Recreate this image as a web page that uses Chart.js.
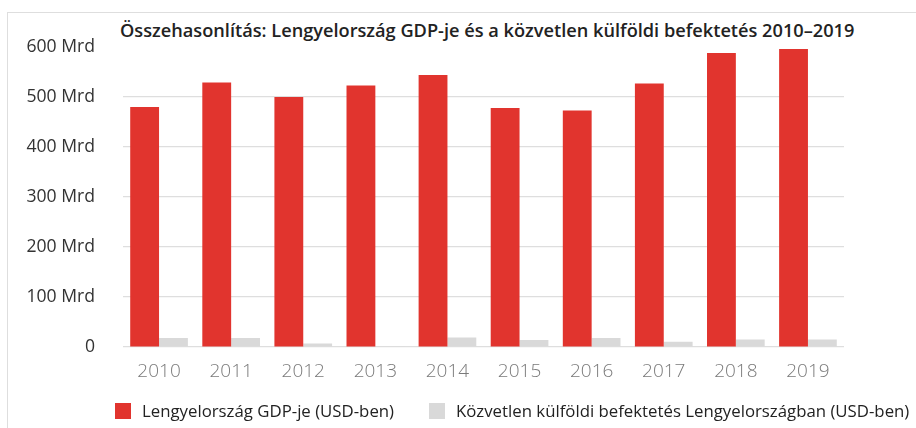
<!DOCTYPE html>
<html lang="hu">
<head>
<meta charset="utf-8">
<script src="https://cdn.jsdelivr.net/npm/chart.js@4/dist/chart.umd.min.js"></script>
<style>
  html, body { margin: 0; padding: 0; background: #fff; overflow: hidden; }
  body { width: 916px; height: 428px; position: relative; font-family: 'Open Sans', sans-serif; }
  .frame { position: absolute; left: 7px; top: 12px; width: 1000px; height: 500px;
           border-top: 1.5px solid #dedede; border-left: 1.5px solid #dedede; }
  .title { position: absolute; left: 120px; top: 18px; font-size: 18.2px; font-weight: 600; color: #222; white-space: nowrap; }
  #chartBox { position: absolute; left: 0; top: 0; width: 916px; height: 400px; }
  .legend-item { position: absolute; top: 399px; display: flex; align-items: center; font-size: 16.8px; color: #222; white-space: nowrap; }
  .legend-item span.box { width: 16px; height: 16px; margin-right: 11px; display: inline-block; }
</style>
</head>
<body>
<div class="frame"></div>
<div class="title">Összehasonlítás: Lengyelország GDP-je és a közvetlen külföldi befektetés 2010–2019</div>
<div id="chartBox"><canvas id="barChart" width="916" height="400"></canvas></div>
<div class="legend-item" style="left:115px"><span class="box" style="background:#e1342e"></span>Lengyelország GDP-je (USD-ben)</div>
<div class="legend-item" style="left:429px"><span class="box" style="background:#d9d9d9"></span>Közvetlen külföldi befektetés Lengyelországban (USD-ben)</div>

<script>
'use strict';

// évek és értékek (milliárd USD)
const years = ['2010', '2011', '2012', '2013', '2014', '2015', '2016', '2017', '2018', '2019'];
const gdp = [480, 529, 500, 523, 544, 478, 473, 527, 588, 596];
const fdi = [18, 18, 7, 0.6, 19, 14, 18, 10.5, 15, 15];
const yTicks = [0, 100, 200, 300, 400, 500, 600];

const FONT = "'Open Sans', sans-serif";

let context = document.querySelector('#barChart').getContext('2d');
new Chart(context, {
  type: 'bar',
  data: {
    labels: years,
    datasets: [{
      label: 'Lengyelország GDP-je (USD-ben)',
      data: gdp,
      backgroundColor: '#e1342e',
    }, {
      label: 'Közvetlen külföldi befektetés Lengyelországban (USD-ben)',
      data: fdi,
      backgroundColor: '#d9d9d9',
    }],
  },
  options: {
    responsive: false,
    animation: false,
    categoryPercentage: 0.8,
    barPercentage: 1.0,
    layout: { padding: { top: 47, right: 72, bottom: 0, left: 0 } },
    plugins: {
      legend: { display: false },
      title: { display: false },
      tooltip: { enabled: false },
    },
    scales: {
      x: {
        grid: { display: false, drawTicks: false },
        border: { display: false },
        ticks: {
          padding: 13,
          color: '#7a7a7a',
          font: { family: FONT, size: 19, weight: 300 },
        },
        afterFit: function(scale) { scale.height = 53 },
      },
      y: {
        min: 0,
        max: 600,
        afterBuildTicks: function(scale) {
          scale.ticks = yTicks.map(function(v) { return { value: v } })
        },
        grid: {
          drawTicks: false,
          lineWidth: 1.2,
          color: function(ctx) {
            return ctx.tick && ctx.tick.value === 600 ? 'rgba(0,0,0,0)' : '#dedede'
          },
        },
        border: { display: false },
        ticks: {
          padding: 28,
          color: '#333',
          font: { family: FONT, size: 17.6 },
          callback: function(v) { return v === 0 ? '0' : v + ' Mrd' },
        },
        afterFit: function(scale) { scale.width = 123 },
      },
    },
  },
});
</script>
</body>
</html>
